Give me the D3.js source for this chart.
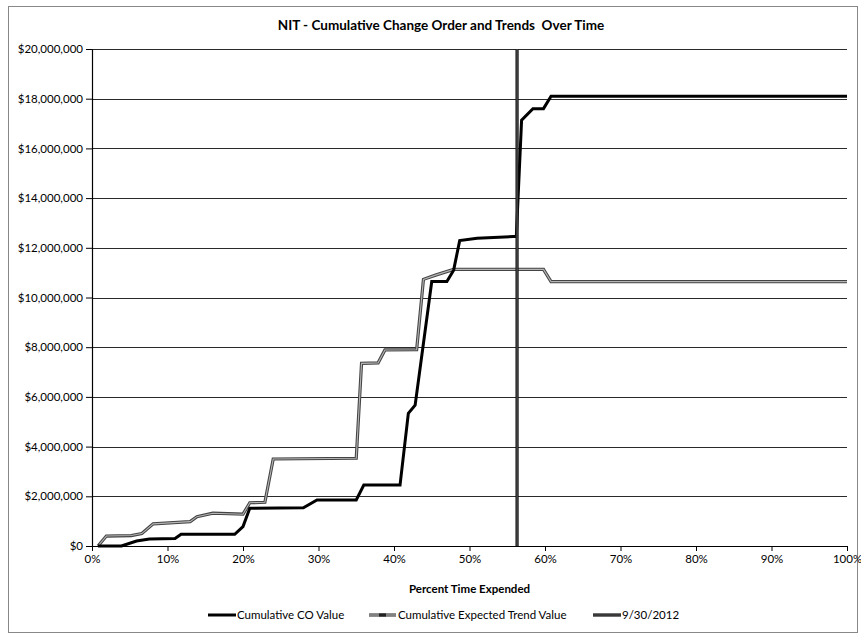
<!DOCTYPE html>
<html>
<head>
<meta charset="utf-8">
<script src="https://cdn.jsdelivr.net/npm/d3@7"></script>
<style>
  body { margin: 0; background: #fff; }
  svg { font-family: Lato, "Open Sans", sans-serif; }
</style>
</head>
<body>
<div id="container"></div>
<script>
// percent time expended (x) and cumulative values ($)
const coPct = [0.8, 3.9, 5.9, 7.6, 11, 11.8, 18.9, 20, 20.9, 28, 29.8, 35, 36, 40.8, 41.9, 42.8, 45, 47, 47.9, 48.7, 51, 55.8, 56.2, 56.9, 58.4, 59.8, 60.8, 100];
const coValue = [0, 0, 200000, 280000, 300000, 470000, 470000, 780000, 1520000, 1540000, 1850000, 1850000, 2450000, 2450000, 5340000, 5670000, 10640000, 10640000, 11100000, 12290000, 12380000, 12450000, 12450000, 17140000, 17600000, 17600000, 18100000, 18100000];

const trendPct = [0.8, 1.9, 5.2, 6.6, 8.1, 13, 13.9, 16, 20, 20.9, 22.9, 24, 35, 35.7, 37.9, 38.8, 43, 43.9, 45.5, 47.9, 59.8, 60.8, 100];
const trendValue = [0, 400000, 420000, 500000, 890000, 980000, 1180000, 1320000, 1280000, 1740000, 1760000, 3500000, 3530000, 7350000, 7370000, 7890000, 7900000, 10730000, 10900000, 11130000, 11130000, 10640000, 10640000];

const datePct = [56.3, 56.3];
const dateValue = [0, 20000000];

const yTicks = [0, 2000000, 4000000, 6000000, 8000000, 10000000, 12000000, 14000000, 16000000, 18000000, 20000000];
const xTicks = [0, 10, 20, 30, 40, 50, 60, 70, 80, 90, 100];
const seriesNames = ['Cumulative CO Value', 'Cumulative Expected Trend Value', '9/30/2012'];

const W = 861, H = 635;
const plotL = 92, plotR = 847, plotT = 49, plotB = 546;

const svg = d3.select('#container').append('svg')
    .attr('width', W)
    .attr('height', H);

// chart border
svg.append('rect')
    .attr('x', 8.5).attr('y', 6.5)
    .attr('width', 849).attr('height', 626)
    .style('fill', 'none')
    .style('stroke', '#888');

const x = d3.scaleLinear().domain([0, 100]).range([plotL, plotR]);
const y = d3.scaleLinear().domain([0, 20000000]).range([plotB, plotT]);

// gridlines
svg.append('g').selectAll('line')
    .data(yTicks.slice(1))
    .join('line')
    .attr('x1', plotL).attr('x2', plotR)
    .attr('y1', d => Math.round(y(d)) + 0.5)
    .attr('y2', d => Math.round(y(d)) + 0.5)
    .style('stroke', '#2a2a2a')
    .style('stroke-width', 1.2);

const yAxis = svg.append('g')
    .attr('transform', `translate(${plotL},0)`)
    .call(d3.axisLeft(y).tickValues(yTicks).tickFormat(d3.format('$,')).tickSize(6).tickSizeOuter(0));

const xAxis = svg.append('g')
    .attr('transform', `translate(0,${plotB})`)
    .call(d3.axisBottom(x).tickValues(xTicks).tickFormat(d => d + '%').tickSize(5).tickSizeOuter(0));

[yAxis, xAxis].forEach(a => {
    a.select('.domain').style('stroke', '#000').style('stroke-width', 1.2);
    a.selectAll('.tick line').style('stroke', '#000');
    a.selectAll('text').style('font-size', '11.5px').style('font-family', 'Lato, sans-serif').style('fill', '#000');
});
yAxis.selectAll('text').attr('x', -9);
xAxis.selectAll('text').attr('y', 9);

const line = d3.line().x(d => x(d[0])).y(d => y(d[1]));
const coData = d3.zip(coPct, coValue);
const trendData = d3.zip(trendPct, trendValue);
const dateData = d3.zip(datePct, dateValue);

// expected trend (gray double line)
svg.append('path').datum(trendData).attr('d', line)
    .style('fill', 'none').style('stroke', '#444').style('stroke-width', 3.2);
svg.append('path').datum(trendData).attr('d', line)
    .style('fill', 'none').style('stroke', '#b5b5b5').style('stroke-width', 1.1);

// cumulative CO value
svg.append('path').datum(coData).attr('d', line)
    .style('fill', 'none').style('stroke', '#000').style('stroke-width', 3);

// 9/30/2012 marker line
svg.append('path').datum(dateData).attr('d', line)
    .style('fill', 'none').style('stroke', '#111').style('stroke-width', 3.2);
svg.append('path').datum(dateData).attr('d', line)
    .style('fill', 'none').style('stroke', '#777').style('stroke-width', 0.8);

// titles
svg.append('text')
    .text('NIT - Cumulative Change Order and Trends\u00a0 Over Time')
    .attr('x', 441).attr('y', 30)
    .attr('text-anchor', 'middle')
    .style('font-size', '13.5px')
    .style('font-weight', 'bold');

svg.append('text')
    .text('Percent Time Expended')
    .attr('x', (plotL + plotR) / 2).attr('y', 593)
    .attr('text-anchor', 'middle')
    .style('font-size', '11.5px')
    .style('font-weight', 'bold');

// legend
const legendX = [208, 369, 593];
const lg = svg.append('g').attr('transform', 'translate(0,615)');
seriesNames.forEach((name, i) => {
    const g = lg.append('g').attr('transform', `translate(${legendX[i]},0)`);
    if (i === 0) {
        g.append('line').attr('x1', 0).attr('x2', 28).style('stroke', '#000').style('stroke-width', 3);
    } else if (i === 1) {
        g.append('line').attr('x1', 0).attr('x2', 27).style('stroke', '#444').style('stroke-width', 3.2);
        g.append('line').attr('x1', 0).attr('x2', 27).style('stroke', '#b5b5b5').style('stroke-width', 1.1);
        g.append('line').attr('x1', 10).attr('x2', 17).style('stroke', '#222').style('stroke-width', 3.2);
    } else {
        g.append('line').attr('x1', 0).attr('x2', 28).style('stroke', '#111').style('stroke-width', 3.2);
        g.append('line').attr('x1', 0).attr('x2', 28).style('stroke', '#777').style('stroke-width', 0.8);
    }
    g.append('text').text(name)
        .attr('x', 29).attr('dy', '0.35em')
        .style('font-size', '11.5px');
});
</script>
</body>
</html>
